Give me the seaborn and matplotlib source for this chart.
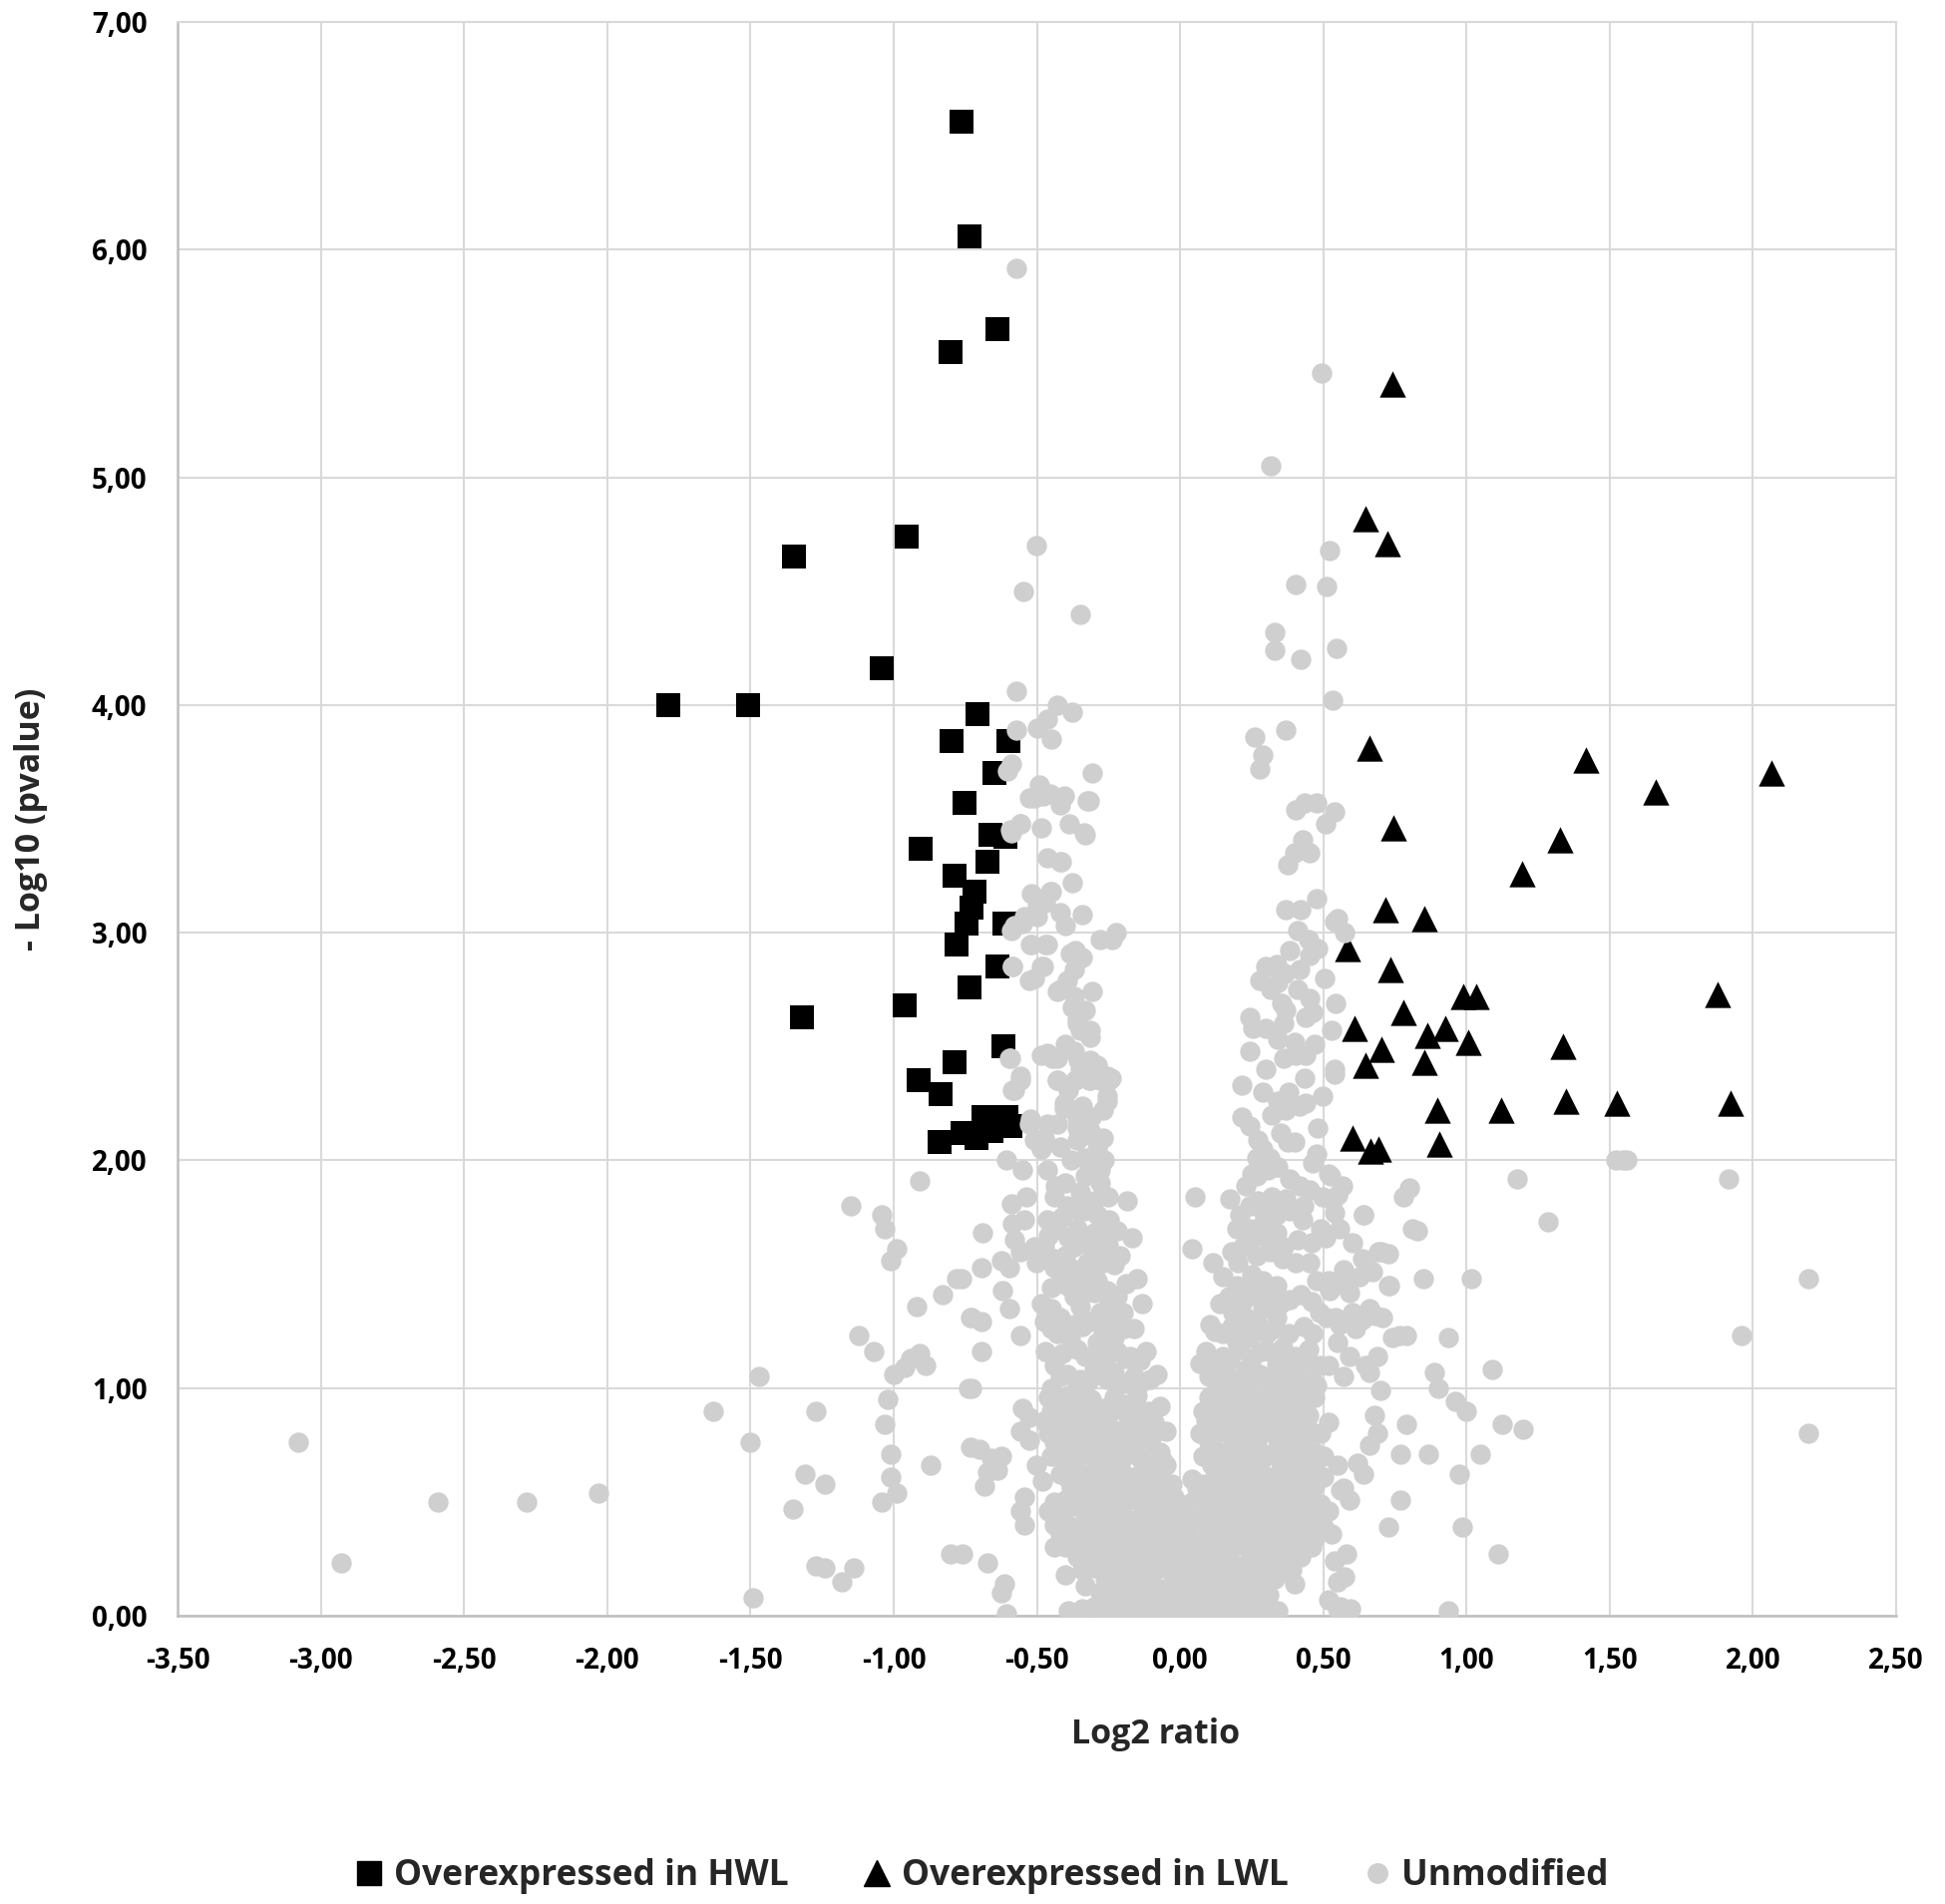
import seaborn as sns
import pandas as pd
import matplotlib as mpl
from matplotlib import pyplot as plt
from matplotlib.lines import Line2D

sns.set_style("white")
plt.rcParams['font.family'] = ['Open Sans', 'DejaVu Sans']
plt.rcParams['font.weight'] = 'bold'

# Overexpressed in HWL (squares)
hwl_x = [-0.762, -0.736, -0.638, -0.800, -0.953, -1.348, -1.041, -1.788, -1.508, -0.708,
         -0.798, -0.600, -0.647, -0.752, -0.907, -0.661, -0.609, -0.671, -0.789, -0.719,
         -0.727, -0.745, -0.615, -0.780, -0.636, -0.734, -0.961, -1.320, -0.617, -0.789,
         -0.914, -0.835, -0.687, -0.606, -0.592, -0.760, -0.841, -0.710, -0.660]
hwl_y = [6.56, 6.06, 5.65, 5.55, 4.74, 4.65, 4.16, 4.00, 4.00, 3.96,
         3.84, 3.84, 3.70, 3.57, 3.37, 3.43, 3.42, 3.31, 3.25, 3.18,
         3.11, 3.04, 3.04, 2.95, 2.85, 2.76, 2.68, 2.63, 2.50, 2.43,
         2.35, 2.29, 2.19, 2.19, 2.15, 2.12, 2.08, 2.10, 2.13]

# Overexpressed in LWL (triangles)
lwl_x = [0.742, 0.647, 0.725, 0.661, 1.418, 2.065, 1.661, 0.745, 1.328, 1.194,
         0.718, 0.853, 0.583, 0.735, 0.990, 1.033, 1.875, 0.781, 0.610, 0.925,
         0.862, 1.006, 0.703, 1.337, 0.647, 0.852, 0.897, 1.122, 1.346, 1.524,
         1.921, 0.601, 0.666, 0.691, 0.906]
lwl_y = [5.41, 4.82, 4.71, 3.81, 3.76, 3.70, 3.62, 3.46, 3.41, 3.26,
         3.10, 3.06, 2.93, 2.84, 2.72, 2.72, 2.73, 2.65, 2.58, 2.58,
         2.55, 2.52, 2.49, 2.50, 2.42, 2.43, 2.22, 2.22, 2.26, 2.25,
         2.25, 2.10, 2.04, 2.05, 2.07]

# Unmodified proteins, grouped by region of the volcano
unmod_far_left = [
    (-3.08, 0.76), (-2.93, 0.23), (-2.59, 0.50), (-2.28, 0.50), (-2.03, 0.54), (-1.63, 0.90),
    (-1.50, 0.76), (-1.49, 0.08), (-1.47, 1.05), (-1.35, 0.47), (-1.31, 0.62), (-1.27, 0.90),
    (-1.24, 0.58), (-1.27, 0.22), (-1.24, 0.21), (-1.18, 0.15), (-1.14, 0.21), (-1.15, 1.80),
    (-1.12, 1.23), (-1.07, 1.16), (-1.04, 1.76), (-1.03, 1.70), (-0.99, 1.61), (-1.01, 1.56),
    (-0.91, 1.91), (-0.92, 1.36), (-0.83, 1.41), (-0.78, 1.48), (-1.02, 0.95), (-1.03, 0.84),
    (-1.01, 0.71), (-1.01, 0.61), (-0.99, 0.54), (-1.04, 0.50), (-0.87, 0.66), (-0.80, 0.27),
    (-0.96, 1.09), (-0.91, 1.15), (-0.89, 1.10), (-1.00, 1.06), (-0.94, 1.13), (-0.73, 1.31),
    (-0.74, 1.00), (-0.73, 0.74),
]

unmod_left_scatter = [
    (-0.584, 2.85), (-0.527, 2.79), (-0.596, 2.45), (-0.556, 2.35), (-0.584, 2.31), (-0.527, 2.16),
    (-0.608, 2.00), (-0.550, 1.96), (-0.590, 1.81), (-0.538, 1.84), (-0.689, 1.68), (-0.584, 1.72),
    (-0.544, 1.74), (-0.580, 1.65), (-0.556, 1.60), (-0.510, 1.62), (-0.625, 1.56), (-0.596, 1.53),
    (-0.694, 1.53), (-0.503, 1.55), (-0.764, 1.48), (-0.619, 1.43), (-0.596, 1.35), (-0.729, 1.31),
    (-0.694, 1.29), (-0.556, 1.23), (-0.694, 1.16), (-0.729, 1.00), (-0.550, 0.91), (-0.527, 0.87),
    (-0.556, 0.81), (-0.527, 0.77), (-0.700, 0.73), (-0.660, 0.69), (-0.625, 0.70), (-0.671, 0.63),
    (-0.683, 0.57), (-0.637, 0.64), (-0.503, 0.66), (-0.544, 0.52), (-0.556, 0.46), (-0.544, 0.40),
    (-0.671, 0.23), (-0.613, 0.14), (-0.625, 0.10), (-0.608, 0.01), (-0.760, 0.27),
]

unmod_upper = [
    (-0.573, 5.92), (0.495, 5.46), (0.315, 5.05), (-0.501, 4.70), (-0.546, 4.50), (-0.350, 4.40),
    (0.521, 4.68), (0.405, 4.53), (0.512, 4.52), (0.332, 4.32), (0.332, 4.24), (0.422, 4.20),
    (0.547, 4.25), (0.532, 4.02), (-0.573, 4.06), (-0.428, 4.00), (-0.376, 3.97), (-0.463, 3.94),
    (-0.498, 3.90), (-0.448, 3.85), (-0.573, 3.89), (-0.590, 3.74), (-0.602, 3.71), (-0.307, 3.70),
    (-0.492, 3.65), (-0.527, 3.59), (-0.477, 3.60), (-0.405, 3.60), (-0.417, 3.56), (-0.318, 3.58),
    (-0.556, 3.48), (-0.590, 3.44), (-0.486, 3.46), (-0.388, 3.48), (-0.333, 3.43), (-0.463, 3.33),
    (-0.414, 3.31), (-0.376, 3.22), (-0.521, 3.17), (-0.451, 3.18), (-0.469, 3.13), (-0.417, 3.09),
    (-0.341, 3.08), (-0.498, 3.07), (-0.550, 3.04), (-0.590, 3.01), (-0.400, 3.03), (-0.222, 3.00),
    (-0.278, 2.97), (-0.510, 3.59), (-0.452, 3.61), (-0.325, 3.58), (-0.592, 3.45), (-0.557, 3.48),
    (-0.336, 3.44), (-0.418, 3.31), (-0.452, 3.18), (-0.499, 3.12), (-0.545, 3.07), (-0.580, 3.03),
    (0.260, 3.86), (0.368, 3.89), (0.287, 3.78), (0.278, 3.72), (0.405, 3.54), (0.434, 3.57),
    (0.475, 3.57), (0.538, 3.53), (0.509, 3.48), (0.428, 3.41), (0.399, 3.35), (0.376, 3.30),
    (0.451, 3.35), (0.475, 3.15), (0.370, 3.10), (0.422, 3.10), (0.550, 3.06), (0.573, 3.00),
    (0.411, 3.01), (0.450, 2.97), (0.538, 3.05),
]

unmod_left_wing = [
    # upper part, y 2-3
    (-0.521, 2.95), (-0.469, 2.95), (-0.365, 2.92), (-0.341, 2.89), (-0.370, 2.84), (-0.394, 2.79),
    (-0.428, 2.74), (-0.376, 2.67), (-0.359, 2.62), (-0.347, 2.57), (-0.313, 2.54), (-0.486, 2.85),
    (-0.486, 2.46), (-0.446, 2.45), (-0.313, 2.43), (-0.428, 2.35), (-0.365, 2.35), (-0.318, 2.35),
    (-0.278, 2.35), (-0.249, 2.35), (-0.405, 2.25), (-0.341, 2.24), (-0.255, 2.26), (-0.428, 2.16),
    (-0.475, 2.10), (-0.486, 2.05), (-0.359, 2.09), (-0.318, 2.11), (-0.289, 2.05), (-0.266, 2.00),
    (-0.300, 1.97), (-0.336, 2.01), (-0.522, 2.95), (-0.464, 2.95), (-0.238, 2.97), (-0.586, 2.85),
    (-0.510, 2.80), (-0.476, 2.85), (-0.383, 2.91), (-0.360, 2.88), (-0.418, 2.75), (-0.371, 2.72),
    (-0.348, 2.66), (-0.360, 2.60), (-0.313, 2.57), (-0.313, 2.44), (-0.313, 2.35), (-0.354, 2.44),
    (-0.592, 2.45), (-0.464, 2.47), (-0.429, 2.45), (-0.255, 2.37), (-0.557, 2.37), (-0.580, 2.31),
    (-0.430, 2.35), (-0.255, 2.28), (-0.522, 2.18), (-0.510, 2.09), (-0.464, 2.16), (-0.406, 2.23),
    (-0.360, 2.18), (-0.313, 2.13), (-0.267, 2.10), (-0.242, 2.36), (-0.307, 2.74), (-0.330, 2.66),
    (-0.380, 2.00), (-0.420, 2.06), (-0.360, 2.14), (-0.310, 2.19), (-0.270, 2.22), (-0.390, 2.31),
    (-0.350, 2.40), (-0.290, 2.42), (-0.400, 2.51), (-0.370, 2.48),
    # middle part, y 1-2
    (-0.463, 1.96), (-0.434, 1.89), (-0.185, 1.82), (-0.394, 1.80), (-0.336, 1.78), (-0.289, 1.76),
    (-0.249, 1.74), (-0.463, 1.74), (-0.428, 1.70), (-0.475, 1.62), (-0.440, 1.57), (-0.220, 1.69),
    (-0.168, 1.66), (-0.370, 1.62), (-0.313, 1.62), (-0.266, 1.58), (-0.231, 1.54), (-0.324, 1.55),
    (-0.382, 1.53), (-0.289, 1.47), (-0.255, 1.43), (-0.336, 1.43), (-0.394, 1.45), (-0.150, 1.48),
    (-0.133, 1.37), (-0.486, 1.37), (-0.451, 1.35), (-0.417, 1.31), (-0.475, 1.29), (-0.370, 1.28),
    (-0.313, 1.29), (-0.243, 1.28), (-0.197, 1.26), (-0.428, 1.24), (-0.382, 1.22), (-0.289, 1.20),
    (-0.220, 1.16), (-0.174, 1.14), (-0.139, 1.12), (-0.440, 1.10), (-0.394, 1.06), (-0.347, 1.04),
    (-0.301, 1.08), (-0.255, 1.04), (-0.197, 1.02), (-0.104, 1.04), (-0.360, 1.70), (-0.300, 1.68),
    (-0.400, 1.58), (-0.250, 1.63), (-0.350, 1.36), (-0.280, 1.33), (-0.220, 1.40), (-0.300, 1.50),
    (-0.410, 1.15), (-0.330, 1.14), (-0.260, 1.12), (-0.360, 1.00), (-0.220, 1.01), (-0.450, 1.00),
    (-0.160, 1.05), (-0.200, 1.33), (-0.350, 1.86), (-0.280, 1.90), (-0.410, 1.50),
    (-0.45, 1.44), (-0.37, 1.40), (-0.30, 1.42), (-0.25, 1.36), (-0.19, 1.46), (-0.44, 1.53),
    (-0.35, 1.50), (-0.27, 1.55), (-0.21, 1.58), (-0.46, 1.67), (-0.39, 1.66), (-0.32, 1.65),
    (-0.27, 1.70), (-0.41, 1.75), (-0.36, 1.78), (-0.30, 1.82), (-0.25, 1.84), (-0.44, 1.84),
    (-0.40, 1.90), (-0.33, 1.93), (-0.28, 1.96),
    (-0.45, 1.26), (-0.40, 1.24), (-0.34, 1.27), (-0.27, 1.25), (-0.23, 1.22), (-0.16, 1.26),
    (-0.47, 1.16), (-0.36, 1.17), (-0.30, 1.14), (-0.24, 1.18), (-0.19, 1.13), (-0.12, 1.16),
    (-0.42, 1.05), (-0.32, 1.03), (-0.28, 1.06), (-0.23, 1.07), (-0.14, 1.02), (-0.08, 1.06),
    # lower part, y 0-1
    (-0.46, 0.96), (-0.43, 0.92), (-0.39, 0.97), (-0.35, 0.94), (-0.31, 0.95), (-0.27, 0.91),
    (-0.23, 0.96), (-0.19, 0.93), (-0.15, 0.97), (-0.11, 0.90), (-0.47, 0.86), (-0.42, 0.83),
    (-0.38, 0.88), (-0.34, 0.82), (-0.30, 0.86), (-0.26, 0.85), (-0.22, 0.81), (-0.18, 0.87),
    (-0.14, 0.84), (-0.09, 0.85), (-0.44, 0.76), (-0.40, 0.72), (-0.36, 0.78), (-0.32, 0.74),
    (-0.28, 0.76), (-0.24, 0.71), (-0.20, 0.77), (-0.16, 0.74), (-0.12, 0.78), (-0.07, 0.72),
    (-0.37, 0.66), (-0.33, 0.62), (-0.29, 0.68), (-0.25, 0.63), (-0.21, 0.66), (-0.17, 0.61),
    (-0.13, 0.67), (-0.09, 0.64), (-0.05, 0.66), (-0.38, 0.56), (-0.34, 0.52), (-0.30, 0.58),
    (-0.26, 0.54), (-0.22, 0.57), (-0.18, 0.51), (-0.14, 0.57), (-0.10, 0.54), (-0.06, 0.56),
    (-0.02, 0.52), (-0.46, 0.46), (-0.42, 0.44), (-0.37, 0.48), (-0.33, 0.42), (-0.29, 0.46),
    (-0.25, 0.44), (-0.21, 0.47), (-0.17, 0.42), (-0.13, 0.46), (-0.09, 0.44), (-0.05, 0.48),
    (-0.01, 0.43), (-0.42, 0.36), (-0.38, 0.32), (-0.34, 0.37), (-0.30, 0.34), (-0.26, 0.36),
    (-0.22, 0.32), (-0.18, 0.37), (-0.14, 0.34), (-0.10, 0.36), (-0.06, 0.33), (-0.02, 0.37),
    (-0.36, 0.26), (-0.32, 0.23), (-0.28, 0.27), (-0.24, 0.24), (-0.20, 0.26), (-0.16, 0.22),
    (-0.12, 0.27), (-0.08, 0.24), (-0.04, 0.26), (-0.01, 0.21), (-0.26, 0.16), (-0.22, 0.13),
    (-0.18, 0.17), (-0.14, 0.14), (-0.10, 0.16), (-0.06, 0.12), (-0.02, 0.17), (-0.22, 0.06),
    (-0.18, 0.03), (-0.14, 0.07), (-0.10, 0.04), (-0.06, 0.06), (-0.03, 0.02), (-0.39, 0.02),
    (-0.34, 0.03), (-0.26, 0.02), (-0.21, 0.01), (-0.48, 0.59), (-0.45, 0.70), (-0.42, 0.62),
    (-0.44, 0.30), (-0.40, 0.18), (-0.33, 0.13), (-0.47, 0.85),
    (-0.45, 0.90), (-0.41, 0.88), (-0.37, 0.91), (-0.33, 0.89), (-0.29, 0.90), (-0.25, 0.88),
    (-0.21, 0.91), (-0.17, 0.89), (-0.13, 0.90), (-0.07, 0.92), (-0.46, 0.80), (-0.42, 0.78),
    (-0.38, 0.81), (-0.34, 0.79), (-0.30, 0.80), (-0.26, 0.78), (-0.22, 0.81), (-0.18, 0.79),
    (-0.14, 0.80), (-0.10, 0.78), (-0.05, 0.81), (-0.42, 0.70), (-0.38, 0.68), (-0.34, 0.71),
    (-0.30, 0.69), (-0.26, 0.70), (-0.22, 0.68), (-0.18, 0.71), (-0.14, 0.69), (-0.10, 0.70),
    (-0.06, 0.68), (-0.39, 0.60), (-0.35, 0.58), (-0.31, 0.61), (-0.27, 0.59), (-0.23, 0.60),
    (-0.19, 0.58), (-0.15, 0.61), (-0.11, 0.59), (-0.07, 0.60), (-0.03, 0.58), (-0.44, 0.50),
    (-0.40, 0.51), (-0.36, 0.49), (-0.32, 0.50), (-0.28, 0.51), (-0.24, 0.49), (-0.20, 0.50),
    (-0.16, 0.52), (-0.12, 0.49), (-0.08, 0.50), (-0.04, 0.51), (0.00, 0.49), (-0.44, 0.40),
    (-0.40, 0.41), (-0.36, 0.39), (-0.32, 0.40), (-0.28, 0.41), (-0.24, 0.39), (-0.20, 0.40),
    (-0.16, 0.41), (-0.12, 0.39), (-0.08, 0.40), (-0.04, 0.41), (0.00, 0.39), (-0.40, 0.30),
    (-0.36, 0.31), (-0.32, 0.29), (-0.28, 0.30), (-0.24, 0.31), (-0.20, 0.29), (-0.16, 0.30),
    (-0.12, 0.31), (-0.08, 0.29), (-0.04, 0.30), (0.00, 0.31), (-0.34, 0.20), (-0.30, 0.21),
    (-0.26, 0.19), (-0.22, 0.20), (-0.18, 0.21), (-0.14, 0.19), (-0.10, 0.20), (-0.06, 0.21),
    (-0.02, 0.19), (-0.28, 0.10), (-0.24, 0.09), (-0.20, 0.11), (-0.16, 0.10), (-0.12, 0.09),
    (-0.08, 0.11), (-0.04, 0.10), (0.00, 0.09), (-0.30, 0.04), (-0.16, 0.01), (-0.12, 0.02),
    (-0.08, 0.01), (-0.04, 0.03), (0.00, 0.02),
]

unmod_right_wing = [
    # upper part, y 2-3
    (0.382, 2.92), (0.336, 2.86), (0.365, 2.82), (0.417, 2.84), (0.451, 2.90), (0.480, 2.93),
    (0.503, 2.80), (0.278, 2.79), (0.318, 2.75), (0.353, 2.69), (0.370, 2.66), (0.451, 2.71),
    (0.463, 2.65), (0.440, 2.63), (0.243, 2.63), (0.255, 2.58), (0.243, 2.48), (0.341, 2.53),
    (0.469, 2.51), (0.440, 2.46), (0.405, 2.46), (0.544, 2.69), (0.538, 2.40), (0.434, 2.36),
    (0.214, 2.33), (0.498, 2.28), (0.341, 2.26), (0.370, 2.22), (0.417, 2.24), (0.214, 2.19),
    (0.243, 2.15), (0.272, 2.09), (0.376, 2.08), (0.480, 2.14), (0.475, 2.03), (0.463, 1.99),
    (0.312, 2.01), (0.336, 1.97), (0.266, 2.01), (0.527, 1.93), (0.567, 1.89), (0.530, 2.57),
    (0.538, 2.38), (0.300, 2.85), (0.290, 2.30), (0.290, 2.05), (0.350, 2.12), (0.400, 2.08),
    (0.320, 2.20), (0.380, 2.30), (0.440, 2.25), (0.300, 2.40), (0.360, 2.45), (0.400, 2.52),
    (0.300, 2.58), (0.360, 2.60), (0.410, 2.75), (0.340, 2.78),
    # middle part, y 1-2
    (0.052, 1.84), (0.174, 1.83), (0.231, 1.89), (0.266, 1.93), (0.307, 1.96), (0.341, 1.97),
    (0.382, 1.92), (0.417, 1.89), (0.451, 1.87), (0.498, 1.84), (0.532, 1.82), (0.243, 1.80),
    (0.289, 1.78), (0.336, 1.76), (0.382, 1.78), (0.197, 1.70), (0.243, 1.70), (0.289, 1.72),
    (0.336, 1.68), (0.428, 1.74), (0.040, 1.61), (0.220, 1.62), (0.266, 1.58), (0.312, 1.60),
    (0.359, 1.57), (0.405, 1.55), (0.451, 1.55), (0.509, 1.66), (0.556, 1.70), (0.602, 1.64),
    (0.637, 1.57), (0.694, 1.60), (0.642, 1.76), (0.116, 1.55), (0.150, 1.49), (0.197, 1.45),
    (0.243, 1.43), (0.289, 1.47), (0.336, 1.45), (0.382, 1.39), (0.475, 1.47), (0.521, 1.43),
    (0.579, 1.45), (0.625, 1.49), (0.671, 1.51), (0.729, 1.45), (0.139, 1.37), (0.185, 1.33),
    (0.231, 1.31), (0.289, 1.35), (0.336, 1.31), (0.486, 1.33), (0.544, 1.31), (0.602, 1.33),
    (0.660, 1.35), (0.706, 1.31), (0.104, 1.28), (0.150, 1.24), (0.197, 1.20), (0.243, 1.22),
    (0.301, 1.24), (0.359, 1.18), (0.405, 1.14), (0.463, 1.24), (0.556, 1.28), (0.613, 1.26),
    (0.741, 1.22), (0.069, 1.11), (0.127, 1.10), (0.174, 1.12), (0.231, 1.08), (0.278, 1.06),
    (0.336, 1.10), (0.382, 1.07), (0.440, 1.12), (0.486, 1.10), (0.590, 1.14), (0.648, 1.10),
    (0.127, 1.00), (0.185, 0.99), (0.243, 1.02), (0.301, 0.98), (0.370, 1.00), (0.428, 0.99),
    (0.475, 1.01), (0.52, 1.94), (0.55, 1.85), (0.54, 1.77), (0.49, 1.70), (0.57, 1.52),
    (0.52, 1.47), (0.59, 1.42), (0.51, 1.31), (0.55, 1.20), (0.52, 1.10), (0.57, 1.05),
    (0.250, 1.50), (0.310, 1.40), (0.200, 1.55), (0.280, 1.16),
    (0.17, 1.40), (0.22, 1.38), (0.27, 1.40), (0.35, 1.37), (0.42, 1.41), (0.46, 1.38),
    (0.18, 1.60), (0.24, 1.64), (0.30, 1.66), (0.36, 1.62), (0.41, 1.65), (0.46, 1.64),
    (0.21, 1.76), (0.27, 1.82), (0.32, 1.84), (0.37, 1.83), (0.43, 1.80), (0.25, 1.94),
    (0.12, 1.25), (0.18, 1.27), (0.22, 1.25), (0.27, 1.28), (0.33, 1.26), (0.38, 1.24),
    (0.43, 1.27), (0.09, 1.16), (0.15, 1.14), (0.21, 1.17), (0.25, 1.13), (0.31, 1.16),
    (0.38, 1.13), (0.45, 1.17), (0.10, 1.05), (0.16, 1.06), (0.20, 1.04), (0.26, 1.07),
    (0.32, 1.04), (0.35, 1.05), (0.41, 1.06), (0.46, 1.04),
    # lower part, y 0-1
    (0.10, 0.96), (0.14, 0.92), (0.18, 0.97), (0.22, 0.94), (0.26, 0.96), (0.30, 0.91),
    (0.34, 0.95), (0.38, 0.97), (0.43, 0.93), (0.47, 0.96), (0.09, 0.86), (0.13, 0.82),
    (0.17, 0.88), (0.21, 0.84), (0.25, 0.86), (0.29, 0.81), (0.33, 0.87), (0.37, 0.84),
    (0.41, 0.86), (0.45, 0.82), (0.52, 0.85), (0.10, 0.76), (0.14, 0.72), (0.18, 0.78),
    (0.22, 0.74), (0.26, 0.76), (0.30, 0.71), (0.34, 0.77), (0.38, 0.74), (0.42, 0.76),
    (0.47, 0.72), (0.11, 0.66), (0.15, 0.62), (0.19, 0.68), (0.23, 0.64), (0.27, 0.66),
    (0.31, 0.61), (0.35, 0.67), (0.39, 0.64), (0.43, 0.66), (0.48, 0.62), (0.55, 0.66),
    (0.06, 0.56), (0.10, 0.52), (0.14, 0.57), (0.18, 0.54), (0.22, 0.56), (0.26, 0.51),
    (0.30, 0.57), (0.34, 0.54), (0.38, 0.56), (0.42, 0.52), (0.47, 0.57), (0.56, 0.55),
    (0.02, 0.46), (0.06, 0.42), (0.10, 0.47), (0.14, 0.44), (0.18, 0.46), (0.22, 0.42),
    (0.26, 0.47), (0.30, 0.44), (0.34, 0.46), (0.38, 0.42), (0.42, 0.47), (0.47, 0.44),
    (0.52, 0.46), (0.02, 0.36), (0.06, 0.32), (0.10, 0.37), (0.14, 0.34), (0.18, 0.36),
    (0.22, 0.32), (0.26, 0.37), (0.30, 0.34), (0.34, 0.36), (0.38, 0.32), (0.42, 0.37),
    (0.47, 0.34), (0.53, 0.36), (0.01, 0.26), (0.05, 0.23), (0.09, 0.27), (0.13, 0.24),
    (0.17, 0.26), (0.21, 0.22), (0.25, 0.27), (0.29, 0.24), (0.33, 0.26), (0.37, 0.22),
    (0.42, 0.26), (0.54, 0.24), (0.58, 0.27), (0.01, 0.16), (0.05, 0.13), (0.09, 0.17),
    (0.13, 0.14), (0.17, 0.16), (0.21, 0.12), (0.25, 0.17), (0.29, 0.14), (0.33, 0.16),
    (0.55, 0.15), (0.01, 0.06), (0.05, 0.03), (0.09, 0.07), (0.13, 0.04), (0.17, 0.06),
    (0.21, 0.03), (0.26, 0.05), (0.52, 0.07), (0.56, 0.04), (0.22, 0.01), (0.26, 0.02),
    (0.03, 0.01), (0.07, 0.02), (-0.01, 0.01), (0.44, 0.60), (0.46, 0.30), (0.40, 0.14),
    (0.08, 0.90), (0.12, 0.88), (0.16, 0.91), (0.20, 0.89), (0.24, 0.90), (0.28, 0.88),
    (0.32, 0.91), (0.36, 0.89), (0.40, 0.90), (0.45, 0.88), (0.07, 0.80), (0.11, 0.78),
    (0.15, 0.81), (0.19, 0.79), (0.23, 0.80), (0.27, 0.78), (0.31, 0.81), (0.35, 0.79),
    (0.39, 0.80), (0.44, 0.78), (0.49, 0.80), (0.08, 0.70), (0.12, 0.68), (0.16, 0.71),
    (0.20, 0.69), (0.24, 0.70), (0.28, 0.68), (0.32, 0.71), (0.36, 0.69), (0.40, 0.70),
    (0.45, 0.68), (0.50, 0.70), (0.04, 0.60), (0.08, 0.58), (0.12, 0.61), (0.16, 0.59),
    (0.20, 0.60), (0.24, 0.58), (0.28, 0.61), (0.32, 0.59), (0.36, 0.60), (0.40, 0.58),
    (0.50, 0.61), (0.04, 0.50), (0.08, 0.51), (0.12, 0.49), (0.16, 0.50), (0.20, 0.51),
    (0.24, 0.49), (0.28, 0.50), (0.32, 0.51), (0.36, 0.49), (0.40, 0.50), (0.44, 0.51),
    (0.49, 0.49), (0.04, 0.40), (0.08, 0.41), (0.12, 0.39), (0.16, 0.40), (0.20, 0.41),
    (0.24, 0.39), (0.28, 0.40), (0.32, 0.41), (0.36, 0.39), (0.40, 0.40), (0.44, 0.41),
    (0.50, 0.39), (0.04, 0.30), (0.08, 0.31), (0.12, 0.29), (0.16, 0.30), (0.20, 0.31),
    (0.24, 0.29), (0.28, 0.30), (0.32, 0.31), (0.36, 0.29), (0.40, 0.30), (0.45, 0.31),
    (0.03, 0.20), (0.07, 0.21), (0.11, 0.19), (0.15, 0.20), (0.19, 0.21), (0.23, 0.19),
    (0.27, 0.20), (0.31, 0.21), (0.35, 0.19), (0.39, 0.20), (0.03, 0.10), (0.07, 0.09),
    (0.11, 0.11), (0.15, 0.10), (0.19, 0.09), (0.23, 0.11), (0.27, 0.10), (0.31, 0.09),
    (0.11, 0.01), (0.15, 0.02), (0.19, 0.01), (0.30, 0.03), (0.34, 0.02),
]

unmod_far_right = [
    (1.178, 1.92), (1.914, 1.92), (1.286, 1.73), (1.520, 2.00), (1.545, 2.00), (1.560, 2.00),
    (2.195, 1.48), (1.961, 1.23), (2.195, 0.80), (1.016, 1.48), (0.848, 1.48), (0.936, 1.22),
    (1.088, 1.08), (0.886, 1.07), (0.903, 1.00), (0.962, 0.94), (0.999, 0.90), (1.124, 0.84),
    (1.196, 0.82), (1.049, 0.71), (0.865, 0.71), (0.973, 0.62), (0.768, 0.71), (0.768, 0.51),
    (0.729, 0.39), (0.984, 0.39), (1.109, 0.27), (0.936, 0.02), (0.790, 1.23), (0.767, 1.23),
    (0.810, 1.70), (0.830, 1.69), (0.778, 1.84), (0.800, 1.88), (0.642, 1.76), (0.703, 1.60),
    (0.729, 1.59), (0.660, 1.52), (0.730, 1.45), (0.638, 1.30), (0.681, 1.32), (0.690, 1.14),
    (0.660, 1.07), (0.700, 0.99), (0.680, 0.88), (0.690, 0.80), (0.660, 0.75), (0.620, 0.67),
    (0.640, 0.62), (0.790, 0.84), (0.570, 0.56), (0.590, 0.51), (0.573, 0.17), (0.595, 0.03),
    (0.551, 0.03),
]

unmod_regions = [unmod_far_left, unmod_left_scatter, unmod_upper,
                 unmod_left_wing, unmod_right_wing, unmod_far_right]
unmod_x = [p[0] for region in unmod_regions for p in region]
unmod_y = [p[1] for region in unmod_regions for p in region]

x_ticks = [-3.5, -3.0, -2.5, -2.0, -1.5, -1.0, -0.5, 0.0, 0.5, 1.0, 1.5, 2.0, 2.5]
y_ticks = [0, 1, 2, 3, 4, 5, 6, 7]

gray = '#cfcfcf'

fig = plt.figure(figsize=(19.5, 19.09), dpi=100)
ax = fig.add_axes([0.0913, 0.1514, 0.8836, 0.8371])

sns.scatterplot(x=hwl_x, y=hwl_y, marker='s', s=280, color='black',
                linewidth=0, ax=ax, zorder=3)
sns.scatterplot(x=lwl_x, y=lwl_y, marker='^', s=360, color='black',
                linewidth=0, ax=ax, zorder=3)
sns.scatterplot(x=unmod_x, y=unmod_y, marker='o', s=215, color=gray,
                linewidth=0, ax=ax, zorder=4)

ax.set_xlim(-3.5, 2.5)
ax.set_ylim(0, 7)
ax.set_xticks(x_ticks)
ax.set_yticks(y_ticks)
fmt = mpl.ticker.FuncFormatter(lambda v, p: f"{v:.2f}".replace('.', ',').replace('-0,00', '0,00'))
ax.xaxis.set_major_formatter(fmt)
ax.yaxis.set_major_formatter(fmt)
ax.tick_params(axis='both', length=0, pad=22, labelsize=20, labelcolor='black')
for lab in ax.get_xticklabels() + ax.get_yticklabels():
    lab.set_fontweight('bold')

ax.grid(True, color='#d9d9d9', linewidth=1.5, zorder=0)
ax.set_axisbelow(True)
for side in ['top', 'right']:
    ax.spines[side].set_color('#d9d9d9')
    ax.spines[side].set_linewidth(1.5)
for side in ['left', 'bottom']:
    ax.spines[side].set_color('#bfbfbf')
    ax.spines[side].set_linewidth(1.8)

ax.set_xlabel('Log2 ratio', fontsize=24.5, fontweight='bold', va='center')
ax.xaxis.set_label_coords(0.569, -0.0745)
ax.set_ylabel('- Log10 (pvalue)', fontsize=24.5, fontweight='bold', va='center')
ax.yaxis.set_label_coords(-0.0853, 0.5)

handles = [
    Line2D([], [], marker='s', linestyle='none', color='black', markersize=17),
    Line2D([], [], marker='^', linestyle='none', color='black', markersize=19),
    Line2D([], [], marker='o', linestyle='none', color=gray, markersize=14),
]
labels = ['Overexpressed in HWL', 'Overexpressed in LWL', 'Unmodified']
fig.legend(handles, labels, loc='center', bbox_to_anchor=(0.504, 0.0147), ncol=3,
           frameon=False, prop={'size': 25.5, 'weight': 'bold'},
           handletextpad=0.2, columnspacing=2.0, handlelength=1.0)

plt.savefig('out.png', dpi=100)
